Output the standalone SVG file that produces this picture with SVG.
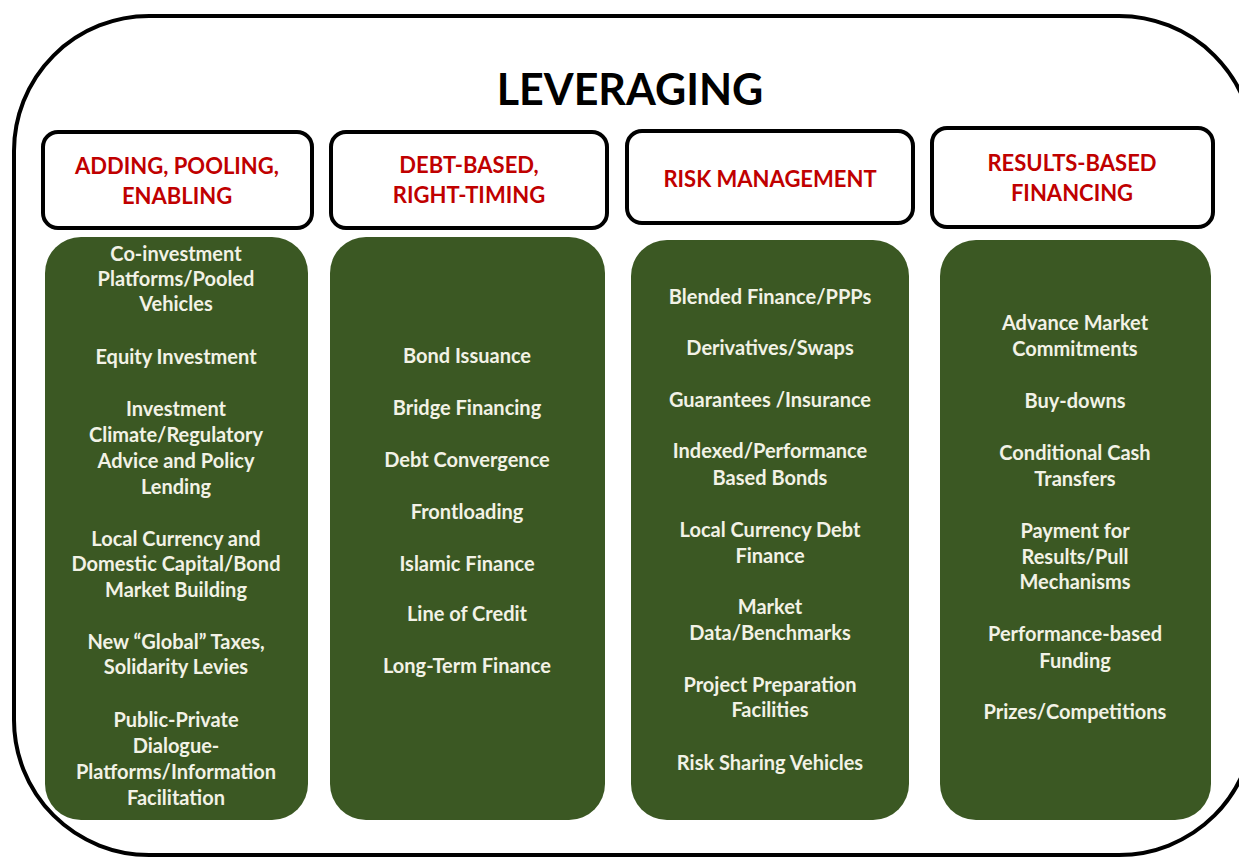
<svg xmlns="http://www.w3.org/2000/svg" width="1239" height="857" viewBox="0 0 1239 857">
  <style>
    .frame { fill: #ffffff; stroke: #000000; stroke-width: 4; }
    .head { fill: #ffffff; stroke: #000000; stroke-width: 4; }
    .body { fill: #3b5823; }
    .title { font-family: Lato, "Liberation Sans", sans-serif; font-weight: bold; font-size: 43px; fill: #000000; text-anchor: middle; }
    .htext { font-family: Lato, "Liberation Sans", sans-serif; font-weight: bold; font-size: 22px; fill: #c00000; text-anchor: middle; }
    .item { font-family: Lato, "Liberation Sans", sans-serif; font-weight: bold; font-size: 20px; fill: #f2f2e6; text-anchor: middle; }
  </style>
  <rect width="1239" height="857" fill="#ffffff"/>

  <!-- outer frame -->
  <g id="frame">
    <rect class="frame" x="14" y="16" width="1240" height="839" rx="135" ry="135"/>
    <text class="title" x="630" y="105">LEVERAGING</text>
  </g>

  <!-- column 1 -->
  <g id="col-adding">
    <rect class="head" x="43" y="132" width="269" height="96" rx="15"/>
    <text class="htext" x="177" y="174">ADDING, POOLING,</text>
    <text class="htext" x="177" y="204">ENABLING</text>
    <rect class="body" x="45" y="237" width="263" height="583" rx="36"/>
    <g class="item">
      <text x="176" y="261">Co-investment</text>
      <text x="176" y="286">Platforms/Pooled</text>
      <text x="176" y="311">Vehicles</text>
      <text x="176" y="364">Equity Investment</text>
      <text x="176" y="416">Investment</text>
      <text x="176" y="442">Climate/Regulatory</text>
      <text x="176" y="468">Advice and Policy</text>
      <text x="176" y="494">Lending</text>
      <text x="176" y="546">Local Currency and</text>
      <text x="176" y="571">Domestic Capital/Bond</text>
      <text x="176" y="597">Market Building</text>
      <text x="176" y="649">New “Global” Taxes,</text>
      <text x="176" y="674">Solidarity Levies</text>
      <text x="176" y="727">Public-Private</text>
      <text x="176" y="753">Dialogue-</text>
      <text x="176" y="779">Platforms/Information</text>
      <text x="176" y="805">Facilitation</text>
    </g>
  </g>

  <!-- column 2 -->
  <g id="col-debt">
    <rect class="head" x="331" y="132" width="276" height="96" rx="15"/>
    <text class="htext" x="469" y="173">DEBT-BASED,</text>
    <text class="htext" x="469" y="203">RIGHT-TIMING</text>
    <rect class="body" x="330" y="237" width="275" height="583" rx="36"/>
    <g class="item">
      <text x="467" y="363">Bond Issuance</text>
      <text x="467" y="415">Bridge Financing</text>
      <text x="467" y="467">Debt Convergence</text>
      <text x="467" y="519">Frontloading</text>
      <text x="467" y="571">Islamic Finance</text>
      <text x="467" y="621">Line of Credit</text>
      <text x="467" y="673">Long-Term Finance</text>
    </g>
  </g>

  <!-- column 3 -->
  <g id="col-risk">
    <rect class="head" x="627" y="131" width="286" height="92" rx="15"/>
    <text class="htext" x="770" y="187">RISK MANAGEMENT</text>
    <rect class="body" x="631" y="240" width="278" height="580" rx="36"/>
    <g class="item">
      <text x="770" y="304">Blended Finance/PPPs</text>
      <text x="770" y="355">Derivatives/Swaps</text>
      <text x="770" y="407">Guarantees /Insurance</text>
      <text x="770" y="458">Indexed/Performance</text>
      <text x="770" y="485">Based Bonds</text>
      <text x="770" y="537">Local Currency Debt</text>
      <text x="770" y="563">Finance</text>
      <text x="770" y="614">Market</text>
      <text x="770" y="640">Data/Benchmarks</text>
      <text x="770" y="692">Project Preparation</text>
      <text x="770" y="717">Facilities</text>
      <text x="770" y="770">Risk Sharing Vehicles</text>
    </g>
  </g>

  <!-- column 4 -->
  <g id="col-results">
    <rect class="head" x="932" y="128" width="281" height="99" rx="15"/>
    <text class="htext" x="1072" y="171">RESULTS-BASED</text>
    <text class="htext" x="1072" y="201">FINANCING</text>
    <rect class="body" x="940" y="240" width="271" height="580" rx="36"/>
    <g class="item">
      <text x="1075" y="330">Advance Market</text>
      <text x="1075" y="356">Commitments</text>
      <text x="1075" y="408">Buy-downs</text>
      <text x="1075" y="460">Conditional Cash</text>
      <text x="1075" y="486">Transfers</text>
      <text x="1075" y="538">Payment for</text>
      <text x="1075" y="564">Results/Pull</text>
      <text x="1075" y="589">Mechanisms</text>
      <text x="1075" y="641">Performance-based</text>
      <text x="1075" y="668">Funding</text>
      <text x="1075" y="719">Prizes/Competitions</text>
    </g>
  </g>

  <!-- no connectors in this figure -->
  <g id="connectors"/>
</svg>
